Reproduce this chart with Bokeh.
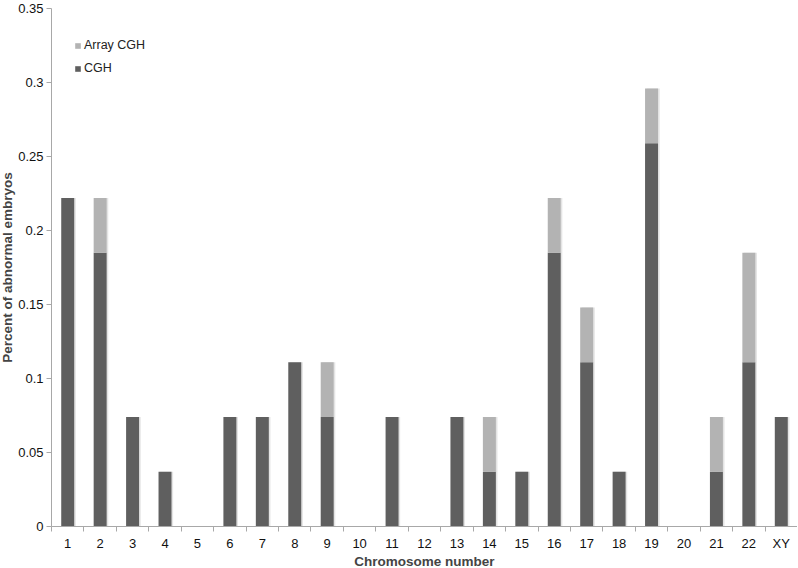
from bokeh.plotting import figure
from bokeh.models import FixedTicker, ColumnDataSource, Legend, LegendItem, Range1d
from bokeh.transform import dodge
from bokeh.embed import file_html
from bokeh.resources import INLINE

chromosomes = ["1", "2", "3", "4", "5", "6", "7", "8", "9", "10", "11", "12",
               "13", "14", "15", "16", "17", "18", "19", "20", "21", "22", "XY"]
cgh = [0.222, 0.185, 0.074, 0.037, 0.0, 0.074, 0.074, 0.111, 0.074, 0.0, 0.074, 0.0,
       0.074, 0.037, 0.037, 0.185, 0.111, 0.037, 0.259, 0.0, 0.037, 0.111, 0.074]
array_cgh = [0.0, 0.037, 0.0, 0.0, 0.0, 0.0, 0.0, 0.0, 0.037, 0.0, 0.0, 0.0,
             0.0, 0.037, 0.0, 0.037, 0.037, 0.0, 0.037, 0.0, 0.037, 0.074, 0.0]
y_ticks = [0.0, 0.05, 0.1, 0.15, 0.2, 0.25, 0.3, 0.35]
y_tick_labels = ["0", "0.05", "0.1", "0.15", "0.2", "0.25", "0.3", "0.35"]

FONT = "Liberation Sans"
DARK = "#5f5f5f"
LIGHT = "#b3b3b3"
AXIS = "#a8a8a8"

n = len(chromosomes)
centers = [i + 0.5 for i in range(n)]
bounds = [float(i) for i in range(n + 1)]
totals = [a + b for a, b in zip(cgh, array_cgh)]

src = ColumnDataSource(dict(x=centers, cgh=cgh, array=array_cgh, total=totals))

p = figure(frame_width=746, frame_height=518, output_backend="svg", toolbar_location=None,
           x_range=Range1d(0, n), y_range=Range1d(0, 0.35),
           min_border_left=55, min_border_right=0, min_border_top=8, min_border_bottom=0)
p.styles = {"margin-left": "-4px", "margin-bottom": "-16px"}
p.outline_line_color = None
p.xgrid.visible = False
p.ygrid.visible = False

# faint shadow at the right edge of the bars
p.vbar(x=dodge("x", 0.05, range=p.x_range), top="total", width=0.4, source=src,
       color="#e4e4e4", line_color=None)

rs = p.vbar_stack(["cgh", "array"], x="x", width=0.4, source=src,
                  color=[DARK, LIGHT], line_color=None)

legend = Legend(items=[LegendItem(label="Array CGH", renderers=[rs[1]]),
                       LegendItem(label="CGH", renderers=[rs[0]])],
                location=(23, 450), glyph_width=7, glyph_height=7,
                label_height=16, spacing=7, padding=0, margin=0,
                label_standoff=3, label_text_font=FONT, label_text_font_size="12.5px",
                label_text_color="#222222", border_line_color=None,
                background_fill_alpha=0)
p.add_layout(legend, "center")

xa = p.xaxis[0]
xa.ticker = FixedTicker(ticks=centers, minor_ticks=bounds)
xa.major_label_overrides = {c: lab for c, lab in zip(centers, chromosomes)}
xa.major_tick_line_color = None
xa.minor_tick_line_color = AXIS
xa.minor_tick_out = 5
xa.minor_tick_in = 0
xa.axis_line_color = AXIS
xa.major_label_text_font = FONT
xa.major_label_text_font_size = "13px"
xa.major_label_text_color = "#111111"
xa.major_label_standoff = 3
xa.axis_label = "Chromosome number"
xa.axis_label_text_font = FONT
xa.axis_label_text_font_style = "bold"
xa.axis_label_text_font_size = "13.5px"
xa.axis_label_standoff = 0

ya = p.yaxis[0]
ya.ticker = FixedTicker(ticks=y_ticks)
ya.major_label_overrides = {t: lab for t, lab in zip(y_ticks, y_tick_labels)}
ya.major_tick_line_color = AXIS
ya.major_tick_out = 5
ya.major_tick_in = 0
ya.minor_tick_line_color = None
ya.axis_line_color = AXIS
ya.major_label_text_font = FONT
ya.major_label_text_font_size = "13px"
ya.major_label_text_color = "#111111"
ya.major_label_standoff = 3
ya.axis_label = "Percent of abnormal embryos"
ya.axis_label_text_font = FONT
ya.axis_label_text_font_style = "bold"
ya.axis_label_text_font_size = "13.5px"
ya.axis_label_standoff = 0

open("out.html", "w").write(file_html(p, INLINE))
